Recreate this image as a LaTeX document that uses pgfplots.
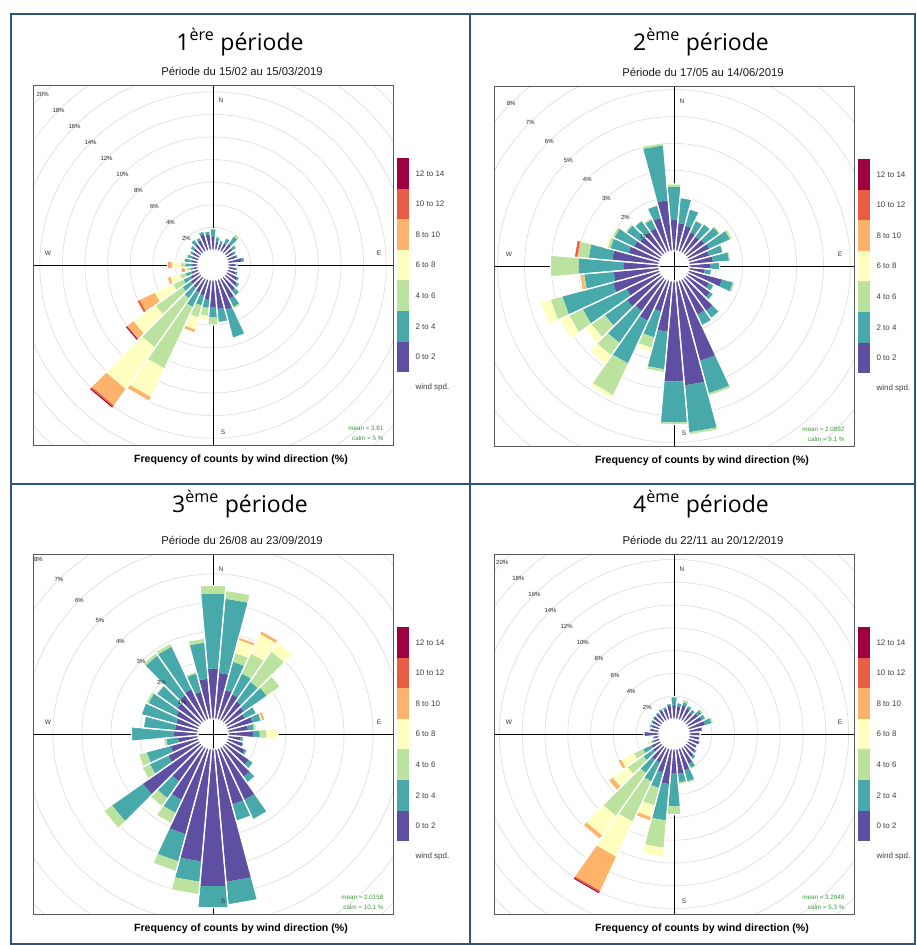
\documentclass[border=0pt]{standalone}
\usepackage{fontspec}
\setmainfont{Liberation Sans}
\newfontfamily\titlefont{Open Sans}
\usepackage{pgfplots}
\usepackage{pgfplotstable}
\pgfplotsset{compat=1.18}

\definecolor{wsA}{HTML}{5E4FA2}
\definecolor{wsB}{HTML}{48A9AB}
\definecolor{wsC}{HTML}{BBE29E}
\definecolor{wsD}{HTML}{FFFFBF}
\definecolor{wsE}{HTML}{FDB36A}
\definecolor{wsF}{HTML}{E85D43}
\definecolor{wsG}{HTML}{9E0142}
\definecolor{tborder}{HTML}{2E5576}
\definecolor{ringc}{HTML}{DCDCDC}
\definecolor{meanc}{HTML}{3C9B3C}

% cumulative percentages: 0-2, 2-4, 4-6, 6-8, 8-10, 10-12, 12-14
\pgfplotstableread{
d a b c e f g h
0 1.2 1.9 1.9 1.9 1.9 1.9 1.9
10 0.8 1.1 1.3 1.3 1.3 1.3 1.3
20 0.6 0.9 1.0 1.0 1.0 1.0 1.0
30 0.8 1.3 1.4 1.4 1.4 1.4 1.4
40 1.0 1.8 2.1 2.1 2.1 2.1 2.1
50 0.8 1.2 1.3 1.3 1.3 1.3 1.3
60 0.7 1.0 1.0 1.0 1.0 1.0 1.0
70 0.8 1.0 1.0 1.0 1.0 1.0 1.0
80 1.2 1.5 1.5 1.5 1.5 1.5 1.5
90 0.6 0.8 0.8 0.8 0.8 0.8 0.8
100 0.7 0.9 0.9 0.9 0.9 0.9 0.9
110 0.8 1.0 1.0 1.0 1.0 1.0 1.0
120 1.1 1.3 1.3 1.3 1.3 1.3 1.3
130 1.3 1.6 1.6 1.6 1.6 1.6 1.6
140 1.5 2.0 2.1 2.1 2.1 2.1 2.1
150 2.0 2.8 3.0 3.0 3.0 3.0 3.0
160 2.8 5.4 5.4 5.4 5.4 5.4 5.4
170 2.6 3.8 3.8 3.8 3.8 3.8 3.8
180 2.4 3.3 4.0 4.0 4.0 4.0 4.0
190 1.8 2.5 3.2 3.6 3.6 3.6 3.6
200 1.5 2.4 3.5 4.6 4.9 4.9 4.9
210 1.4 2.8 8.8 11.6 12.0 12.0 12.0
220 1.2 2.3 7.6 12.1 13.9 14.05 14.2
230 1.1 2.0 4.9 7.3 8.0 8.05 8.2
240 0.9 1.6 2.6 4.4 5.9 6.15 6.15
250 0.7 1.2 1.7 2.6 2.9 2.9 2.9
260 0.4 0.7 1.0 1.2 1.35 1.5 1.5
270 0.5 1.1 1.5 2.3 2.6 2.7 2.7
280 0.6 1.2 1.3 1.3 1.3 1.3 1.3
290 0.6 1.0 1.2 1.2 1.2 1.2 1.2
300 0.7 1.0 1.0 1.0 1.0 1.0 1.0
310 0.8 1.2 1.2 1.2 1.2 1.2 1.2
320 1.0 1.5 1.5 1.5 1.5 1.5 1.5
330 1.1 1.4 1.4 1.4 1.4 1.4 1.4
340 1.5 1.8 1.8 1.8 1.8 1.8 1.8
350 1.4 1.7 1.7 1.7 1.7 1.7 1.7
}\tabA

\pgfplotstableread{
d a b c e f g h
0 1.15 2.4 2.5 2.5 2.5 2.5 2.5
10 1.05 2.0 2.0 2.0 2.0 2.0 2.0
20 1.0 1.65 1.65 1.65 1.65 1.65 1.65
30 0.85 1.3 1.35 1.35 1.35 1.35 1.35
40 0.8 1.38 1.38 1.38 1.38 1.38 1.38
50 0.85 1.5 1.57 1.57 1.57 1.57 1.57
60 0.9 1.75 1.85 1.85 1.85 1.85 1.85
70 0.8 1.35 1.35 1.35 1.35 1.35 1.35
80 0.9 1.5 1.56 1.56 1.56 1.56 1.56
90 0.8 1.15 1.15 1.15 1.15 1.15 1.15
100 0.6 0.85 0.85 0.85 0.85 0.85 0.85
110 1.3 1.72 1.8 1.8 1.8 1.8 1.8
120 0.9 1.1 1.1 1.1 1.1 1.1 1.1
130 1.1 1.25 1.25 1.25 1.25 1.25 1.25
140 1.5 1.84 1.84 1.84 1.84 1.84 1.84
150 1.45 1.9 1.9 1.9 1.9 1.9 1.9
160 3.1 4.35 4.45 4.45 4.45 4.45 4.45
170 3.9 5.65 5.75 5.75 5.75 5.75 5.75
180 3.75 5.28 5.36 5.36 5.36 5.36 5.36
190 1.9 3.3 3.42 3.42 3.42 3.42 3.42
200 1.2 2.2 2.6 2.78 2.78 2.78 2.78
210 1.7 3.45 4.75 4.9 4.9 4.9 4.9
220 1.5 2.95 3.5 3.9 3.9 3.9 3.9
230 1.6 2.6 3.2 3.5 3.5 3.5 3.5
240 1.4 3.2 3.75 4.15 4.15 4.15 4.15
250 1.8 3.75 4.2 4.6 4.6 4.6 4.6
260 1.7 2.8 2.85 2.85 2.97 2.97 2.97
270 1.33 3.0 4.05 4.05 4.05 4.05 4.05
280 1.75 2.63 3.02 3.02 3.06 3.17 3.17
290 1.2 1.9 2.0 2.1 2.1 2.1 2.1
300 1.1 1.9 2.0 2.0 2.0 2.0 2.0
310 1.0 1.6 1.68 1.68 1.68 1.68 1.68
320 1.0 1.5 1.55 1.55 1.55 1.55 1.55
330 1.0 1.35 1.43 1.43 1.43 1.43 1.43
340 1.3 1.8 1.8 1.8 1.8 1.8 1.8
350 1.9 3.95 4.05 4.05 4.05 4.05 4.05
}\tabB

\pgfplotstableread{
d a b c e f g h
0 1.75 4.33 4.62 4.62 4.62 4.62 4.62
10 1.6 4.17 4.46 4.46 4.46 4.46 4.46
20 1.06 2.07 2.38 2.85 2.95 2.95 2.95
30 1.0 1.8 2.56 3.3 3.42 3.42 3.42
40 0.88 1.7 2.97 3.37 3.37 3.37 3.37
50 0.8 1.76 2.33 2.33 2.33 2.33 2.33
60 0.7 1.15 1.15 1.15 1.15 1.15 1.15
70 0.9 1.2 1.2 1.25 1.35 1.35 1.35
80 0.7 0.9 1.0 1.0 1.0 1.0 1.0
90 0.87 1.1 1.33 1.73 1.73 1.73 1.73
100 0.45 0.55 0.55 0.55 0.55 0.55 0.55
110 0.55 0.6 0.6 0.6 0.6 0.6 0.6
120 0.7 0.8 0.8 0.8 0.8 0.8 0.8
130 1.0 1.2 1.2 1.2 1.2 1.2 1.2
140 1.3 1.55 1.55 1.55 1.55 1.55 1.55
150 2.0 2.75 2.75 2.75 2.75 2.75 2.75
160 2.0 2.6 2.6 2.6 2.6 2.6 2.6
170 4.6 5.4 5.4 5.4 5.4 5.4 5.4
180 4.75 5.5 5.5 5.5 5.5 5.5 5.5
190 3.9 4.6 5.05 5.05 5.05 5.05 5.05
200 3.07 4.04 4.4 4.4 4.4 4.4 4.4
210 2.0 2.5 2.9 2.9 2.9 2.9 2.9
220 1.5 2.2 2.55 2.55 2.55 2.55 2.55
230 2.45 3.75 4.1 4.1 4.1 4.1 4.1
240 1.2 1.9 2.2 2.2 2.2 2.2 2.2
250 1.0 1.85 2.15 2.15 2.15 2.15 2.15
260 0.7 1.1 1.2 1.2 1.2 1.2 1.2
270 0.85 2.3 2.3 2.3 2.3 2.3 2.3
280 0.8 1.9 1.9 1.9 1.9 1.9 1.9
290 0.8 2.05 2.05 2.05 2.05 2.05 2.05
300 0.9 1.95 2.05 2.05 2.05 2.05 2.05
310 1.0 1.85 1.9 1.9 1.9 1.9 1.9
320 1.13 2.8 2.92 2.92 2.92 2.92 2.92
330 1.2 2.82 2.95 2.95 2.95 2.95 2.95
340 1.0 1.65 1.72 1.72 1.72 1.72 1.72
350 1.4 2.65 2.8 2.8 2.8 2.8 2.8
}\tabC

\pgfplotstableread{
d a b c e f g h
0 1.2 1.96 1.96 1.96 1.96 1.96 1.96
10 1.1 1.46 1.46 1.46 1.46 1.46 1.46
20 1.3 1.6 1.87 1.87 1.87 1.87 1.87
30 1.2 1.5 1.5 1.5 1.5 1.5 1.5
40 1.0 1.4 1.4 1.4 1.4 1.4 1.4
50 1.3 1.7 1.9 1.9 1.9 1.9 1.9
60 1.4 1.8 1.8 1.8 1.8 1.8 1.8
70 1.5 2.1 2.3 2.3 2.3 2.3 2.3
80 1.1 1.25 1.25 1.25 1.25 1.25 1.25
90 0.9 1.0 1.0 1.0 1.0 1.0 1.0
100 0.9 1.0 1.0 1.0 1.0 1.0 1.0
110 1.0 1.1 1.1 1.1 1.1 1.1 1.1
120 0.9 1.0 1.0 1.0 1.0 1.0 1.0
130 1.0 1.2 1.2 1.2 1.2 1.2 1.2
140 1.2 1.4 1.5 1.5 1.5 1.5 1.5
150 1.6 2.0 2.15 2.15 2.15 2.15 2.15
160 2.0 3.0 3.2 3.2 3.2 3.2 3.2
170 2.2 2.95 3.12 3.12 3.12 3.12 3.12
180 2.13 5.06 5.8 5.8 5.8 5.8 5.8
190 3.1 6.3 8.7 9.55 9.55 9.55 9.55
200 2.2 3.6 5.2 6.25 6.6 6.6 6.6
210 1.5 3.3 7.2 10.6 13.9 14.05 14.2
220 1.5 2.9 7.5 9.6 10.0 10.0 10.0
230 1.0 2.0 3.7 5.3 5.75 5.75 5.75
240 0.9 1.7 2.6 3.85 4.15 4.15 4.15
250 0.5 0.7 0.85 1.0 1.12 1.12 1.12
260 0.5 0.6 0.6 0.6 0.6 0.6 0.6
270 1.3 1.35 1.35 1.35 1.35 1.35 1.35
280 0.8 0.9 0.9 0.9 0.9 0.9 0.9
290 0.7 0.9 1.0 1.0 1.0 1.0 1.0
300 0.8 1.0 1.0 1.0 1.0 1.0 1.0
310 0.9 1.0 1.1 1.1 1.1 1.1 1.1
320 0.9 1.1 1.1 1.1 1.1 1.1 1.1
330 1.0 1.2 1.2 1.2 1.2 1.2 1.2
340 1.0 1.2 1.2 1.2 1.2 1.2 1.2
350 1.2 1.4 1.4 1.4 1.4 1.4 1.4
}\tabD

% ---------- wedge drawing from the tables ----------
\def\wrGetAux#1#2#3{\pgfplotstablegetelem{#2}{#3}\of#1}
\newcommand\wrGet[2]{\expandafter\wrGetAux\wrTab{#1}{#2}}
\newcommand\wrAngles[1]{%
  \edef\wrRow{#1}%
  \wrGet{#1}{d}%
  \edef\wrD{\pgfplotsretval}%
  \pgfmathsetmacro\wrSa{sin(\wrD-5)}\pgfmathsetmacro\wrCa{cos(\wrD-5)}%
  \pgfmathsetmacro\wrSb{sin(\wrD+5)}\pgfmathsetmacro\wrCb{cos(\wrD+5)}}
\newcommand\wrBand[2]{%
  \wrGet{\wrRow}{#1}%
  \pgfmathsetmacro\wrNext{\wrOff+\pgfplotsretval}%
  \ifdim\wrNext pt>\dimexpr\wrPrev pt+0.004pt\relax
    \pgfmathsetmacro\wrXa{\wrPrev*\wrSa}\pgfmathsetmacro\wrYa{\wrPrev*\wrCa}%
    \pgfmathsetmacro\wrXb{\wrNext*\wrSa}\pgfmathsetmacro\wrYb{\wrNext*\wrCa}%
    \pgfmathsetmacro\wrXc{\wrNext*\wrSb}\pgfmathsetmacro\wrYc{\wrNext*\wrCb}%
    \pgfmathsetmacro\wrXd{\wrPrev*\wrSb}\pgfmathsetmacro\wrYd{\wrPrev*\wrCb}%
    \edef\wrCmd{\noexpand\addplot[fill=#2,draw=none,forget plot] coordinates {(\wrXa,\wrYa) (\wrXb,\wrYb) (\wrXc,\wrYc) (\wrXd,\wrYd)} -- cycle;}%
    \wrCmd
    \let\wrPrev\wrNext
  \fi}
\newcommand\wrFill[1]{\wrAngles{#1}\edef\wrPrev{\wrOff}%
  \wrBand{a}{wsA}\wrBand{b}{wsB}\wrBand{c}{wsC}\wrBand{e}{wsD}\wrBand{f}{wsE}\wrBand{g}{wsF}\wrBand{h}{wsG}}
\newcommand\wrLine[1]{\wrAngles{#1}%
  \wrGet{#1}{h}%
  \pgfmathsetmacro\wrTot{\wrOff+\pgfplotsretval}%
  \pgfmathsetmacro\wrXa{\wrOff*\wrSa}\pgfmathsetmacro\wrYa{\wrOff*\wrCa}%
  \pgfmathsetmacro\wrXb{\wrTot*\wrSa}\pgfmathsetmacro\wrYb{\wrTot*\wrCa}%
  \pgfmathsetmacro\wrXc{\wrTot*\wrSb}\pgfmathsetmacro\wrYc{\wrTot*\wrCb}%
  \pgfmathsetmacro\wrXd{\wrOff*\wrSb}\pgfmathsetmacro\wrYd{\wrOff*\wrCb}%
  \edef\wrCmd{\noexpand\addplot[draw=white,line width=1.2pt,line join=round,forget plot] coordinates {(\wrXa,\wrYa) (\wrXb,\wrYb) (\wrXc,\wrYc) (\wrXd,\wrYd)} -- cycle;}%
  \wrCmd}

% ---------- decorations (scope with x=1pt,y=-1pt) ----------
\newcommand\wrGrid[5]{% cx cy step nrings hole
  \begin{scope}
    \clip (#1-180,#2-180) rectangle (#1+180,#2+180);
    \foreach \j in {1,...,#4}{\pgfmathsetmacro\wrR{15+\j*#3}\draw[ringc,line width=0.6pt] (#1,#2) circle[radius=\wrR pt];}
  \end{scope}
  \draw[black,line width=0.7pt] (#1,#2-180) -- (#1,#2+180);
  \draw[black,line width=0.7pt] (#1-180,#2) -- (#1+180,#2);
  \ifnum#5=1 \fill[white] (#1,#2) circle[radius=14.6pt];\fi}
\newcommand\wrLabels[5]{% cx cy step nrings pct
  \begin{scope}
    \clip (#1-180,#2-180) rectangle (#1+180,#2+180);
    \foreach \j in {1,...,#4}{\pgfmathsetmacro\wrR{15+\j*#3}\pgfmathtruncatemacro\wrP{\j*#5}%
      \path (#1,#2) ++(135:\wrR pt) node[font=\fontsize{6}{7}\selectfont,text=black!85] {\wrP\%};}
  \end{scope}
  \node[font=\fontsize{6.5}{8}\selectfont,text=black!80] at (#1+8,#2-165) {N};
  \node[font=\fontsize{6.5}{8}\selectfont,text=black!80] at (#1+10,#2+167) {S};
  \node[font=\fontsize{6.5}{8}\selectfont,text=black!80] at (#1+166,#2-12) {E};
  \node[font=\fontsize{6.5}{8}\selectfont,text=black!80] at (#1-165,#2-12) {W};
  \draw[black!65,line width=0.8pt] (#1-180,#2-180) rectangle (#1+180,#2+180);
  \foreach \i/\c/\l in {0/wsG/12 to 14,1/wsF/10 to 12,2/wsE/8 to 10,3/wsD/6 to 8,4/wsC/4 to 6,5/wsB/2 to 4,6/wsA/0 to 2}{
    \fill[\c] (#1+184,#2-107+\i*30.6) rectangle (#1+196,#2-107+\i*30.6+30.6);
    \node[anchor=west,font=\fontsize{8}{9}\selectfont,text=black!75] at (#1+199,#2-107+\i*30.6+15.3) {\l};}
  \node[anchor=west,font=\fontsize{8}{9}\selectfont,text=black!75] at (#1+199,#2+122) {wind spd.};}
\newcommand\wrTexts[7]{% cx cy title subtitle mean calm titlebaseline
  \node[anchor=base,font=\titlefont\fontsize{23}{27}\selectfont] at (#1+27,#7) {#3};
  \node[anchor=base,font=\fontsize{11.3}{13}\selectfont,text=black!90] at (#1+29,#2-190) {#4};
  \node[font=\bfseries\fontsize{10.6}{12}\selectfont] at (#1+28,#2+195) {Frequency of counts by wind direction (\%)};
  \node[anchor=east,font=\fontsize{6.3}{7}\selectfont,text=meanc] at (#1+174,#2+163) {mean = #5};
  \node[anchor=east,font=\fontsize{6.3}{7}\selectfont,text=meanc] at (#1+174,#2+173) {calm = #6};}

\pgfplotsset{wr/.style={anchor=south west,hide axis,clip=true}}

\begin{document}
\begin{tikzpicture}
\useasboundingbox (0pt,0pt) rectangle (917pt,-945pt);
\fill[white] (0pt,0pt) rectangle (917pt,-945pt);
\begin{scope}[x=1pt,y=-1pt]
  \wrGrid{213}{265}{22.6}{10}{1}
  \wrGrid{674}{266}{26.9}{8}{0}
  \wrGrid{213}{734}{29}{8}{0}
  \wrGrid{674}{734}{22.8}{10}{1}
\end{scope}

\begin{axis}[wr,at={(33pt,-445pt)},x=11.3pt,y=11.3pt,xmin=-15.929,xmax=15.929,ymin=-15.929,ymax=15.929]
\def\wrTab{\tabA}\def\wrOff{1.3274}
\pgfplotsinvokeforeach{0,...,35}{\wrFill{#1}}
\pgfplotsinvokeforeach{0,...,35}{\wrLine{#1}}
\end{axis}

\begin{axis}[wr,at={(494pt,-446pt)},x=26.9pt,y=26.9pt,xmin=-6.6914,xmax=6.6914,ymin=-6.6914,ymax=6.6914]
\def\wrTab{\tabB}\def\wrOff{0.5576}
\pgfplotsinvokeforeach{0,...,35}{\wrFill{#1}}
\pgfplotsinvokeforeach{0,...,35}{\wrLine{#1}}
\end{axis}

\begin{axis}[wr,at={(33pt,-914pt)},x=29pt,y=29pt,xmin=-6.2069,xmax=6.2069,ymin=-6.2069,ymax=6.2069]
\def\wrTab{\tabC}\def\wrOff{0.5172}
\pgfplotsinvokeforeach{0,...,35}{\wrFill{#1}}
\pgfplotsinvokeforeach{0,...,35}{\wrLine{#1}}
\end{axis}

\begin{axis}[wr,at={(494pt,-914pt)},x=11.4pt,y=11.4pt,xmin=-15.789,xmax=15.789,ymin=-15.789,ymax=15.789]
\def\wrTab{\tabD}\def\wrOff{1.3158}
\pgfplotsinvokeforeach{0,...,35}{\wrFill{#1}}
\pgfplotsinvokeforeach{0,...,35}{\wrLine{#1}}
\end{axis}

\begin{scope}[x=1pt,y=-1pt]
  \wrLabels{213}{265}{22.6}{10}{2}
  \wrLabels{674}{266}{26.9}{8}{1}
  \wrLabels{213}{734}{29}{8}{1}
  \wrLabels{674}{734}{22.8}{10}{2}
  \wrTexts{213}{265}{1\textsuperscript{ère} période}{Période du 15/02 au 15/03/2019}{3.81}{5 \%}{50}
  \wrTexts{674}{266}{2\textsuperscript{ème} période}{Période du 17/05 au 14/06/2019}{2.0892}{9.1 \%}{50}
  \wrTexts{213}{734}{3\textsuperscript{ème} période}{Période du 26/08 au 23/09/2019}{2.0158}{10.1 \%}{512}
  \wrTexts{674}{734}{4\textsuperscript{ème} période}{Période du 22/11 au 20/12/2019}{3.2948}{5.3 \%}{512}
  \draw[tborder,line width=2pt] (11,14) rectangle (915,944);
  \draw[tborder,line width=2pt] (470,14) -- (470,944);
  \draw[tborder,line width=2pt] (11,484) -- (915,484);
\end{scope}
\end{tikzpicture}
\end{document}
